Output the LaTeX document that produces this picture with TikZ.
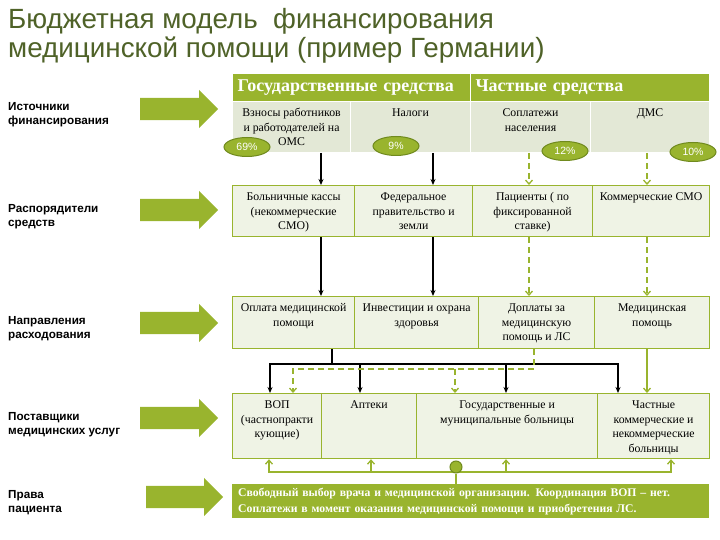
\documentclass[tikz,border=0pt]{standalone}
\usepackage{fontspec}
\setmainfont{Liberation Serif}
\setsansfont{Liberation Sans}
\usetikzlibrary{shapes.geometric,shapes.arrows,arrows.meta}

\definecolor{leaf}{RGB}{153,180,46}
\definecolor{leafdark}{RGB}{112,138,30}
\definecolor{titlegreen}{RGB}{79,98,40}
\definecolor{srcfill}{RGB}{227,232,214}
\definecolor{cellfill}{RGB}{239,243,229}

\newcommand{\ctext}[3]{\parbox[c][#2pt][t]{#1pt}{\centering\rule{0pt}{15pt}#3}}

\tikzstyle{title} = [anchor=north west, inner sep=0, align=left, text=titlegreen, font=\sffamily\fontsize{27.8}{29}\selectfont]
\tikzstyle{rowlabel} = [anchor=north west, inner sep=0, align=left, font=\sffamily\bfseries\fontsize{11.7}{14.5}\selectfont]
\tikzstyle{bigarrow} = [single arrow, fill=leaf, inner xsep=0, inner ysep=11pt, single arrow head extend=8pt, minimum height=78pt, anchor=west]
\tikzstyle{hdr} = [rectangle, draw=white, line width=1pt, fill=leaf, text=white, anchor=north west, inner xsep=5pt, minimum height=28pt, align=left, font=\bfseries\fontsize{18}{20}\selectfont]
\tikzstyle{src} = [rectangle, draw=white, line width=1pt, fill=srcfill, inner sep=0, anchor=north west, font=\fontsize{11.8}{14.6}\selectfont]
\tikzstyle{cell} = [rectangle, draw=leaf, line width=1.2pt, fill=cellfill, inner sep=0, anchor=north west, font=\fontsize{11.8}{14.6}\selectfont]
\tikzstyle{rights} = [rectangle, fill=leaf, text=white, anchor=north west, inner xsep=6pt, text width=465pt, minimum height=34pt, align=left, font=\bfseries\fontsize{11.7}{16}\selectfont]
\tikzstyle{pct} = [ellipse, draw=leafdark, line width=1pt, fill=leaf, text=white, minimum width=46pt, minimum height=19pt, inner sep=0, font=\sffamily\fontsize{10.5}{12}\selectfont]
\tikzstyle{dot} = [circle, draw=leafdark, line width=1pt, fill=leaf, minimum size=12pt, inner sep=0]
\tikzstyle{blk} = [line width=1.3pt, -{Stealth[length=6pt,width=5pt]}]
\tikzstyle{gline} = [draw=leaf, line width=1.3pt]
\tikzstyle{gdash} = [draw=leaf, line width=1.3pt, dash pattern=on 6pt off 4pt]
\tikzstyle{gtip} = [-{Straight Barb[length=4pt,width=7pt]}]

\begin{document}
\begin{tikzpicture}[x=1pt, y=-1pt]
    \useasboundingbox (0,0) rectangle (720,540);
    % Title
    \node[title] (ttl) at (8,8) {Бюджетная модель~ финансирования\\медицинской помощи (пример Германии)};
    % Levels
    \node[rowlabel] (l1) at (8,102) {Источники\\финансирования};
    \node[rowlabel] (l2) at (8,204) {Распорядители\\средств};
    \node[rowlabel] (l3) at (8,316) {Направления\\расходования};
    \node[rowlabel] (l4) at (8,412) {Поставщики\\медицинских услуг};
    \node[rowlabel] (l5) at (8,490) {Права\\пациента};
    \foreach \i/\y in {1/109, 2/210, 3/323, 4/418}
      \node[bigarrow] (ar\i) at (140,\y) {};
    \node[bigarrow, minimum height=77pt] (ar5) at (146,497) {};
    % Sources
    \node[hdr, text width=228pt] (h1) at (232,73) {Государственные средства};
    \node[hdr, text width=229pt] (h2) at (470,73) {Частные средства};
    \node[src] (s1) at (232,101) {\ctext{118}{51}{Взносы работников\\и работодателей на\\ОМС}};
    \node[src] (s2) at (350,101) {\ctext{120}{51}{Налоги}};
    \node[src] (s3) at (470,101) {\ctext{120}{51}{Соплатежи\\населения}};
    \node[src] (s4) at (590,101) {\ctext{119}{51}{ДМС}};
    \node[pct] (q1) at (247,147) {69\%};
    \node[pct] (q2) at (396,146) {9\%};
    \node[pct] (q3) at (565,151) {12\%};
    \node[pct] (q4) at (693,152) {10\%};
    % Managers
    \node[cell] (m1) at (232,185) {\ctext{122}{51}{Больничные кассы\\(некоммерческие\\СМО)}};
    \node[cell] (m2) at (354,185) {\ctext{118}{51}{Федеральное\\правительство и\\земли}};
    \node[cell] (m3) at (472,185) {\ctext{120}{51}{Пациенты ( по\\фиксированной\\ставке)}};
    \node[cell] (m4) at (592,185) {\ctext{117}{51}{Коммерческие СМО}};
    % Spending
    \node[cell] (e1) at (232,296) {\ctext{122}{52}{Оплата медицинской\\помощи}};
    \node[cell] (e2) at (354,296) {\ctext{124}{52}{Инвестиции и охрана\\здоровья}};
    \node[cell] (e3) at (478,296) {\ctext{116}{52}{Доплаты за\\медицинскую\\помощь и ЛС}};
    \node[cell] (e4) at (594,296) {\ctext{115}{52}{Медицинская\\помощь}};
    % Providers
    \node[cell] (p1) at (232,393) {\ctext{89}{65}{ВОП\\(частнопракти\\кующие)}};
    \node[cell] (p2) at (321,393) {\ctext{95}{65}{Аптеки}};
    \node[cell] (p3) at (416,393) {\ctext{181}{65}{Государственные и\\муниципальные больницы}};
    \node[cell] (p4) at (597,393) {\ctext{112}{65}{Частные\\коммерческие и\\некоммерческие\\больницы}};
    % Rights
    \node[rights] (r) at (232,484) {Свободный выбор врача и медицинской организации. Координация ВОП – нет.\\Соплатежи в момент оказания медицинской помощи и приобретения ЛС.};
    % Edges
    \foreach \x/\c in {321/xa, 433/xb, 529/xc, 647/xd}
      \coordinate (\c) at (\x,0);
    \foreach \c in {xa,xb} {
      \draw[blk] (s1.south -| \c) -- (m1.north -| \c);
      \draw[blk] (m1.south -| \c) -- (e1.north -| \c);
    }
    \foreach \c in {xc,xd} {
      \draw[gdash,gtip] (s1.south -| \c) -- (m1.north -| \c);
      \draw[gdash,gtip] (m1.south -| \c) -- (e1.north -| \c);
    }
    \coordinate (j0) at (332,364);
    \foreach \x [count=\i] in {270,360,506,618}
      \coordinate (t\i) at (\x,364);
    \draw[line width=1.3pt] (e1.south -| j0) -- (j0);
    \draw[blk, {Stealth[length=6pt,width=5pt]}-{Stealth[length=6pt,width=5pt]}] (p1.north -| t1) -- (t1) -- (t4) -- (p1.north -| t4);
    \foreach \i in {2,3}
      \draw[blk] (t\i) -- (p1.north -| t\i);
    \coordinate (g0) at (534,369);
    \coordinate (g1) at (293,369);
    \coordinate (g2) at (455,369);
    \draw[gdash,gtip] (e3.south -| g0) -- (g0) -- (g1) -- (p1.north -| g1);
    \draw[gdash,gtip] (g2) -- (p1.north -| g2);
    \draw[gline,gtip] (e4.south -| xd) -- (p4.north -| xd);
    \foreach \x [count=\i] in {269,371,506,671}
      \coordinate (u\i) at (\x,472);
    \draw[gline, {Straight Barb[length=4pt,width=7pt]}-{Straight Barb[length=4pt,width=7pt]}] (p1.south -| u1) -- (u1) -- (u4) -- (p1.south -| u4);
    \foreach \i in {2,3}
      \draw[gline,gtip] (u\i) -- (p1.south -| u\i);
    \node[dot] (dot) at (456,467) {};
    \draw[gline] (dot.south) -- (r.north -| dot);
\end{tikzpicture}
\end{document}
